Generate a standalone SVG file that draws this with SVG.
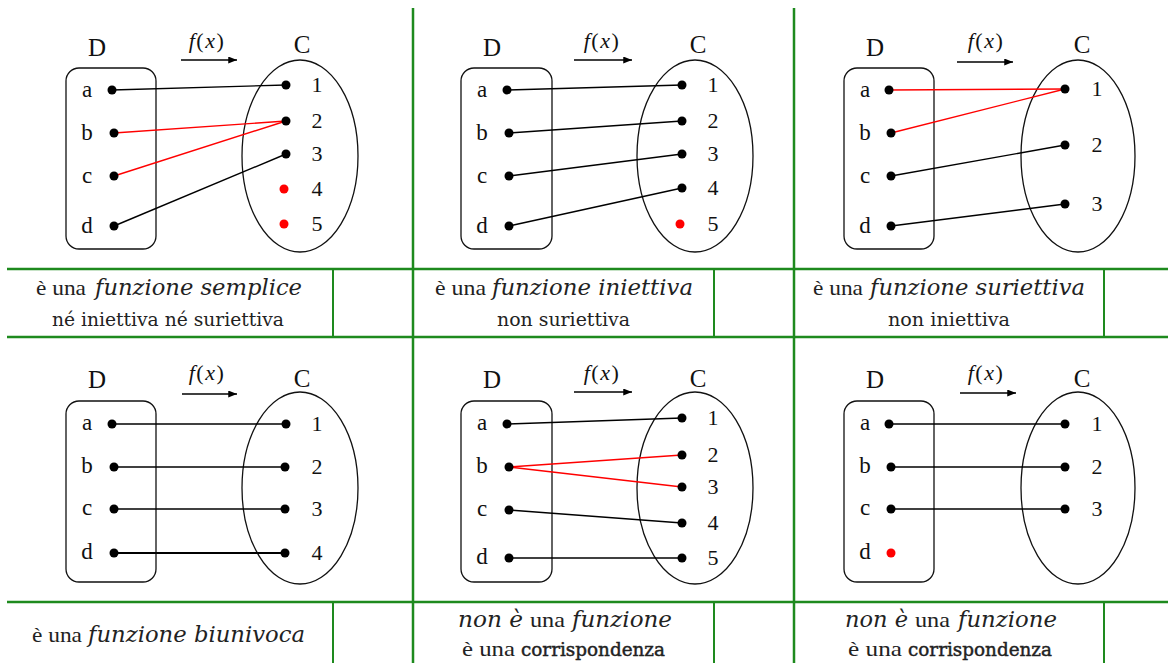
<svg xmlns="http://www.w3.org/2000/svg" width="1168" height="663" viewBox="0 0 1168 663">
<defs>
<marker id="ah" viewBox="0 0 10 8" refX="10" refY="4" markerWidth="9" markerHeight="7" orient="auto" markerUnits="userSpaceOnUse"><path d="M0,0 L10,4 L0,8 z" fill="#000"/></marker>
<style>
.grid{stroke:#1e8a1e;stroke-width:2.5;fill:none}
.sep{stroke:#1e8a1e;stroke-width:2;fill:none}
.setD,.setC{fill:none;stroke:#111;stroke-width:1.3}
.t{font-family:"Liberation Serif",serif;fill:#111}
.big{font-size:25px;text-anchor:middle}
.lbl{font-size:23px;text-anchor:middle}
.num{font-size:22px;text-anchor:middle}
.fx{font-size:22px;text-anchor:middle;letter-spacing:1.5px}
.it{font-style:italic}
.dot{fill:#000}
.rdot{fill:#ff0000}
.ln{stroke:#000;stroke-width:1.4}
.rln{stroke:#ff0000;stroke-width:1.4}
.arr{stroke:#000;stroke-width:1.6;marker-end:url(#ah)}
.tm{font-family:"Liberation Serif",serif;fill:#222;font-size:21px}
.cr{font-family:"DejaVu Serif",serif;fill:#222;font-size:18.5px}
.ci{font-family:"DejaVu Serif",serif;fill:#222;font-size:22.5px;font-style:italic}
.cbd{font-family:"DejaVu Serif",serif;fill:#222;font-size:18.5px;stroke:#222;stroke-width:0.45}
</style>
</defs>
<rect width="1168" height="663" fill="#fff"/>

<g id="grid">
<line class="grid" x1="7" y1="269" x2="1168" y2="269"/>
<line class="grid" x1="7" y1="337" x2="1168" y2="337"/>
<line class="grid" x1="7" y1="602" x2="1168" y2="602"/>
<line class="grid" x1="413" y1="8" x2="413" y2="663"/>
<line class="grid" x1="794" y1="8" x2="794" y2="663"/>
<line class="sep" x1="333" y1="269" x2="333" y2="337"/>
<line class="sep" x1="714" y1="269" x2="714" y2="337"/>
<line class="sep" x1="1104" y1="269" x2="1104" y2="337"/>
<line class="sep" x1="333" y1="602" x2="333" y2="663"/>
<line class="sep" x1="714" y1="602" x2="714" y2="663"/>
<line class="sep" x1="1104" y1="602" x2="1104" y2="663"/>
</g>

<!-- Panel 1 -->
<g id="p1">
<g id="p1-head">
<text class="t big" x="97" y="56">D</text>
<text class="t fx" x="207" y="48"><tspan class="it">f</tspan>(<tspan class="it">x</tspan>)</text>
<line class="arr" x1="181" y1="60" x2="237" y2="60"/>
<text class="t big" x="302" y="53">C</text>
</g>
<g id="p1-D">
<rect class="setD" x="66" y="68" width="90" height="181" rx="13"/>
<text class="t lbl" x="87" y="97">a</text><text class="t lbl" x="87" y="140">b</text><text class="t lbl" x="87" y="183">c</text><text class="t lbl" x="87" y="233">d</text>
</g>
<g id="p1-C">
<ellipse class="setC" cx="300" cy="156" rx="58" ry="96"/>
<text class="t num" x="317" y="92">1</text><text class="t num" x="317" y="128">2</text><text class="t num" x="317" y="161">3</text><text class="t num" x="317" y="196">4</text><text class="t num" x="317" y="231">5</text>
</g>
<g id="p1-connectors">
<line class="ln" x1="112" y1="90" x2="286" y2="85"/>
<line class="rln" x1="114" y1="133" x2="286" y2="121"/>
<line class="rln" x1="114" y1="176" x2="286" y2="121"/>
<line class="ln" x1="114" y1="226" x2="286" y2="154"/>
</g>
<g id="p1-dots">
<circle class="dot" cx="112" cy="90" r="4.5"/><circle class="dot" cx="114" cy="133" r="4.5"/><circle class="dot" cx="114" cy="176" r="4.5"/><circle class="dot" cx="114" cy="226" r="4.5"/>
<circle class="dot" cx="286" cy="85" r="4.5"/><circle class="dot" cx="286" cy="121" r="4.5"/><circle class="dot" cx="286" cy="154" r="4.5"/><circle class="rdot" cx="284" cy="189" r="4.5"/><circle class="rdot" cx="284" cy="224" r="4.5"/>
</g>
<g id="p1-caption">
<text class="tm" x="36" y="295" textLength="50" lengthAdjust="spacingAndGlyphs">è una</text>
<text class="ci" x="95" y="295" textLength="207" lengthAdjust="spacingAndGlyphs">funzione semplice</text>
<text class="cr" x="52" y="326" textLength="232" lengthAdjust="spacingAndGlyphs">né iniettiva né suriettiva</text>
</g>
</g>

<!-- Panel 2 -->
<g id="p2">
<g id="p2-head">
<text class="t big" x="492" y="56">D</text>
<text class="t fx" x="602" y="48"><tspan class="it">f</tspan>(<tspan class="it">x</tspan>)</text>
<line class="arr" x1="574" y1="60" x2="632" y2="60"/>
<text class="t big" x="698" y="53">C</text>
</g>
<g id="p2-D">
<rect class="setD" x="461" y="68" width="91" height="181" rx="13"/>
<text class="t lbl" x="482" y="97">a</text><text class="t lbl" x="482" y="140">b</text><text class="t lbl" x="482" y="183">c</text><text class="t lbl" x="482" y="233">d</text>
</g>
<g id="p2-C">
<ellipse class="setC" cx="695" cy="156" rx="58" ry="96"/>
<text class="t num" x="713" y="92">1</text><text class="t num" x="713" y="128">2</text><text class="t num" x="713" y="161">3</text><text class="t num" x="713" y="195">4</text><text class="t num" x="713" y="231">5</text>
</g>
<g id="p2-connectors">
<line class="ln" x1="507" y1="90" x2="682" y2="85"/>
<line class="ln" x1="509" y1="133" x2="682" y2="121"/>
<line class="ln" x1="509" y1="176" x2="682" y2="154"/>
<line class="ln" x1="509" y1="226" x2="682" y2="188"/>
</g>
<g id="p2-dots">
<circle class="dot" cx="507" cy="90" r="4.5"/><circle class="dot" cx="509" cy="133" r="4.5"/><circle class="dot" cx="509" cy="176" r="4.5"/><circle class="dot" cx="509" cy="226" r="4.5"/>
<circle class="dot" cx="682" cy="85" r="4.5"/><circle class="dot" cx="682" cy="121" r="4.5"/><circle class="dot" cx="682" cy="154" r="4.5"/><circle class="dot" cx="682" cy="188" r="4.5"/><circle class="rdot" cx="680" cy="224" r="4.5"/>
</g>
<g id="p2-caption">
<text class="tm" x="435" y="295" textLength="51" lengthAdjust="spacingAndGlyphs">è una</text>
<text class="ci" x="492" y="295" textLength="201" lengthAdjust="spacingAndGlyphs">funzione iniettiva</text>
<text class="cr" x="497" y="326" textLength="133" lengthAdjust="spacingAndGlyphs">non suriettiva</text>
</g>
</g>

<!-- Panel 3 -->
<g id="p3">
<g id="p3-head">
<text class="t big" x="875" y="56">D</text>
<text class="t fx" x="986" y="48"><tspan class="it">f</tspan>(<tspan class="it">x</tspan>)</text>
<line class="arr" x1="957" y1="62" x2="1013" y2="62"/>
<text class="t big" x="1082" y="53">C</text>
</g>
<g id="p3-D">
<rect class="setD" x="844" y="68" width="90" height="181" rx="13"/>
<text class="t lbl" x="865" y="97">a</text><text class="t lbl" x="865" y="140">b</text><text class="t lbl" x="865" y="183">c</text><text class="t lbl" x="865" y="233">d</text>
</g>
<g id="p3-C">
<ellipse class="setC" cx="1078" cy="156" rx="57" ry="96"/>
<text class="t num" x="1097" y="96">1</text><text class="t num" x="1097" y="152">2</text><text class="t num" x="1097" y="211">3</text>
</g>
<g id="p3-connectors">
<line class="rln" x1="889" y1="90" x2="1065" y2="89"/>
<line class="rln" x1="891" y1="133" x2="1065" y2="89"/>
<line class="ln" x1="891" y1="176" x2="1065" y2="145"/>
<line class="ln" x1="891" y1="226" x2="1065" y2="204"/>
</g>
<g id="p3-dots">
<circle class="dot" cx="889" cy="90" r="4.5"/><circle class="dot" cx="891" cy="133" r="4.5"/><circle class="dot" cx="891" cy="176" r="4.5"/><circle class="dot" cx="891" cy="226" r="4.5"/>
<circle class="dot" cx="1065" cy="89" r="4.5"/><circle class="dot" cx="1065" cy="145" r="4.5"/><circle class="dot" cx="1065" cy="204" r="4.5"/>
</g>
<g id="p3-caption">
<text class="tm" x="813" y="295" textLength="50" lengthAdjust="spacingAndGlyphs">è una</text>
<text class="ci" x="870" y="295" textLength="215" lengthAdjust="spacingAndGlyphs">funzione suriettiva</text>
<text class="cr" x="888" y="326" textLength="122" lengthAdjust="spacingAndGlyphs">non iniettiva</text>
</g>
</g>

<!-- Panel 4 -->
<g id="p4">
<g id="p4-head">
<text class="t big" x="97" y="388">D</text>
<text class="t fx" x="207" y="380"><tspan class="it">f</tspan>(<tspan class="it">x</tspan>)</text>
<line class="arr" x1="182" y1="394" x2="237" y2="394"/>
<text class="t big" x="302" y="387">C</text>
</g>
<g id="p4-D">
<rect class="setD" x="66" y="401" width="90" height="181" rx="13"/>
<text class="t lbl" x="87" y="430">a</text><text class="t lbl" x="87" y="473">b</text><text class="t lbl" x="87" y="515">c</text><text class="t lbl" x="87" y="559">d</text>
</g>
<g id="p4-C">
<ellipse class="setC" cx="300" cy="488" rx="58" ry="96"/>
<text class="t num" x="317" y="431">1</text><text class="t num" x="317" y="474">2</text><text class="t num" x="317" y="516">3</text><text class="t num" x="317" y="560">4</text>
</g>
<g id="p4-connectors">
<line class="ln" x1="112" y1="424" x2="286" y2="424"/>
<line class="ln" x1="114" y1="467" x2="285" y2="467"/>
<line class="ln" x1="114" y1="509" x2="285" y2="509"/>
<line class="ln" x1="114" y1="553" x2="285" y2="553" style="stroke-width:1.8"/>
</g>
<g id="p4-dots">
<circle class="dot" cx="112" cy="424" r="4.5"/><circle class="dot" cx="114" cy="467" r="4.5"/><circle class="dot" cx="114" cy="509" r="4.5"/><circle class="dot" cx="114" cy="553" r="4.5"/>
<circle class="dot" cx="286" cy="424" r="4.5"/><circle class="dot" cx="285" cy="467" r="4.5"/><circle class="dot" cx="285" cy="509" r="4.5"/><circle class="dot" cx="285" cy="553" r="4.5"/>
</g>
<g id="p4-caption">
<text class="tm" x="32" y="642" textLength="50" lengthAdjust="spacingAndGlyphs">è una</text>
<text class="ci" x="88" y="642" textLength="217" lengthAdjust="spacingAndGlyphs">funzione biunivoca</text>
</g>
</g>

<!-- Panel 5 -->
<g id="p5">
<g id="p5-head">
<text class="t big" x="492" y="388">D</text>
<text class="t fx" x="602" y="380"><tspan class="it">f</tspan>(<tspan class="it">x</tspan>)</text>
<line class="arr" x1="574" y1="392" x2="632" y2="392"/>
<text class="t big" x="698" y="387">C</text>
</g>
<g id="p5-D">
<rect class="setD" x="461" y="401" width="91" height="181" rx="13"/>
<text class="t lbl" x="482" y="430">a</text><text class="t lbl" x="482" y="473">b</text><text class="t lbl" x="482" y="516">c</text><text class="t lbl" x="482" y="564">d</text>
</g>
<g id="p5-C">
<ellipse class="setC" cx="695" cy="488" rx="58" ry="96"/>
<text class="t num" x="713" y="425">1</text><text class="t num" x="713" y="462">2</text><text class="t num" x="713" y="494">3</text><text class="t num" x="713" y="530">4</text><text class="t num" x="713" y="565">5</text>
</g>
<g id="p5-connectors">
<line class="ln" x1="507" y1="424" x2="682" y2="418"/>
<line class="rln" x1="509" y1="467" x2="682" y2="455"/>
<line class="rln" x1="509" y1="467" x2="682" y2="487"/>
<line class="ln" x1="509" y1="510" x2="682" y2="523"/>
<line class="ln" x1="509" y1="558" x2="682" y2="558"/>
</g>
<g id="p5-dots">
<circle class="dot" cx="507" cy="424" r="4.5"/><circle class="dot" cx="509" cy="467" r="4.5"/><circle class="dot" cx="509" cy="510" r="4.5"/><circle class="dot" cx="509" cy="558" r="4.5"/>
<circle class="dot" cx="682" cy="418" r="4.5"/><circle class="dot" cx="682" cy="455" r="4.5"/><circle class="dot" cx="682" cy="487" r="4.5"/><circle class="dot" cx="682" cy="523" r="4.5"/><circle class="dot" cx="682" cy="558" r="4.5"/>
</g>
<g id="p5-caption">
<text class="ci" x="458" y="627" textLength="65" lengthAdjust="spacingAndGlyphs">non è</text>
<text class="tm" x="530" y="627" textLength="35" lengthAdjust="spacingAndGlyphs">una</text>
<text class="ci" x="572" y="627" textLength="100" lengthAdjust="spacingAndGlyphs">funzione</text>
<text class="tm" x="462" y="656" textLength="53" lengthAdjust="spacingAndGlyphs">è una</text>
<text class="cbd" x="521" y="656" textLength="144" lengthAdjust="spacingAndGlyphs">corrispondenza</text>
</g>
</g>

<!-- Panel 6 -->
<g id="p6">
<g id="p6-head">
<text class="t big" x="875" y="388">D</text>
<text class="t fx" x="986" y="380"><tspan class="it">f</tspan>(<tspan class="it">x</tspan>)</text>
<line class="arr" x1="960" y1="393" x2="1016" y2="393"/>
<text class="t big" x="1082" y="387">C</text>
</g>
<g id="p6-D">
<rect class="setD" x="844" y="401" width="90" height="181" rx="13"/>
<text class="t lbl" x="865" y="430">a</text><text class="t lbl" x="865" y="473">b</text><text class="t lbl" x="865" y="515">c</text><text class="t lbl" x="865" y="559">d</text>
</g>
<g id="p6-C">
<ellipse class="setC" cx="1078" cy="488" rx="57" ry="96"/>
<text class="t num" x="1097" y="431">1</text><text class="t num" x="1097" y="474">2</text><text class="t num" x="1097" y="516">3</text>
</g>
<g id="p6-connectors">
<line class="ln" x1="889" y1="424" x2="1065" y2="424"/>
<line class="ln" x1="891" y1="467" x2="1065" y2="467"/>
<line class="ln" x1="891" y1="509" x2="1065" y2="509"/>
</g>
<g id="p6-dots">
<circle class="dot" cx="889" cy="424" r="4.5"/><circle class="dot" cx="891" cy="467" r="4.5"/><circle class="dot" cx="891" cy="509" r="4.5"/><circle class="rdot" cx="891" cy="553" r="4.5"/>
<circle class="dot" cx="1065" cy="424" r="4.5"/><circle class="dot" cx="1065" cy="467" r="4.5"/><circle class="dot" cx="1065" cy="509" r="4.5"/>
</g>
<g id="p6-caption">
<text class="ci" x="845" y="627" textLength="63" lengthAdjust="spacingAndGlyphs">non è</text>
<text class="tm" x="915" y="627" textLength="35" lengthAdjust="spacingAndGlyphs">una</text>
<text class="ci" x="958" y="627" textLength="99" lengthAdjust="spacingAndGlyphs">funzione</text>
<text class="tm" x="848" y="656" textLength="54" lengthAdjust="spacingAndGlyphs">è una</text>
<text class="cbd" x="908" y="656" textLength="144" lengthAdjust="spacingAndGlyphs">corrispondenza</text>
</g>
</g>
</svg>
